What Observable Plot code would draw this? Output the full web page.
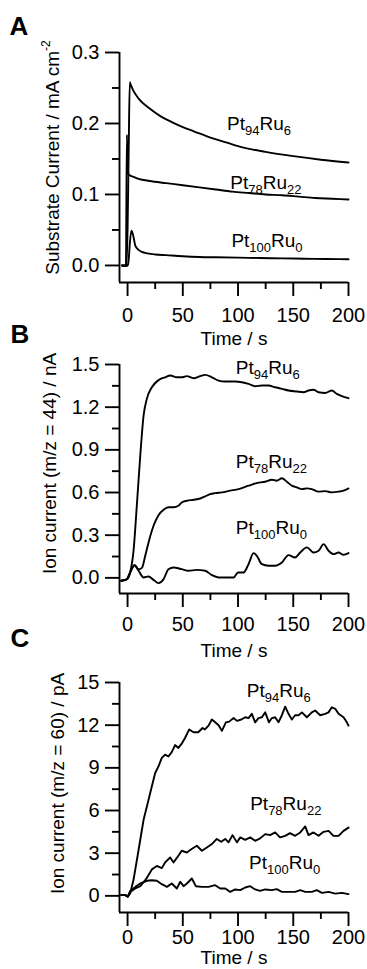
<!DOCTYPE html>
<html><head><meta charset="utf-8">
<script src="https://cdn.jsdelivr.net/npm/d3@7"></script>
<script src="https://cdn.jsdelivr.net/npm/@observablehq/plot@0.6"></script>
<style>
body{margin:0;background:#fff;}
#fig{position:relative;width:367px;height:969px;overflow:hidden;}
#fig svg{position:absolute;left:0;background:transparent;}
</style></head><body><div id="fig"></div>
<script>
const seriesNames = ["Pt94Ru6", "Pt78Ru22", "Pt100Ru0"];
const xMajor = [0, 50, 100, 150, 200];
const xMinor = [25, 75, 125, 175];

// Panel A: substrate current (mA cm-2)
const tA94 = [-5, -1, 0, 1, 2, 3, 5, 10, 20, 30, 40, 50, 60, 75, 90, 100, 125, 150, 175, 200];
const vA94 = [0, 0, 0.05, 0.16, 0.258, 0.254, 0.247, 0.235, 0.221, 0.21, 0.202, 0.195, 0.189, 0.18, 0.173, 0.168, 0.16, 0.154, 0.149, 0.145];
const tA78 = [-5, -1.5, -0.6, 0.3, 2, 5, 10, 20, 35, 50, 65, 80, 95, 110, 125, 140, 155, 170, 185, 200];
const vA78 = [0, 0, 0.184, 0.13, 0.127, 0.125, 0.122, 0.119, 0.116, 0.113, 0.11, 0.107, 0.104, 0.102, 0.1, 0.099, 0.097, 0.095, 0.094, 0.093];
const tA100 = [-5, -1, 0, 1, 2, 3.5, 5, 7, 10, 13, 18, 25, 35, 50, 65, 80, 100, 120, 140, 160, 180, 200];
const vA100 = [0, -0.001, 0, 0.008, 0.03, 0.049, 0.043, 0.028, 0.022, 0.019, 0.017, 0.0155, 0.0145, 0.013, 0.012, 0.0115, 0.011, 0.0105, 0.01, 0.0095, 0.009, 0.0088];
const yTicksA = [0, 0.1, 0.2, 0.3];
const yMinorA = [0.05, 0.15, 0.25];
const labelTA = [90, 93, 94];
const labelVA = [0.2, 0.117, 0.035];

// Panel B: ion current m/z = 44 (nA)
const tB94 = [-5.7, -0.6, 2.4, 5.4, 8.4, 11.5, 14.5, 17.5, 22, 28, 34, 38.6, 44.6, 49, 53.7, 59.7, 65.8, 70.3, 76.3, 82.4, 88.4, 97.4, 103.5, 109.5, 115.5, 121.6, 127.6, 133.6, 139.7, 145.7, 153.2, 159.3, 163.8, 168.3, 172.9, 178.9, 184.9, 189.4, 194, 200];
const vB94 = [-0.02, -0.01, 0.04, 0.19, 0.51, 0.86, 1.14, 1.26, 1.34, 1.39, 1.41, 1.423, 1.41, 1.41, 1.418, 1.403, 1.418, 1.427, 1.41, 1.387, 1.38, 1.38, 1.375, 1.364, 1.347, 1.352, 1.352, 1.34, 1.329, 1.317, 1.31, 1.305, 1.317, 1.322, 1.305, 1.3, 1.317, 1.293, 1.277, 1.263];
const tB78 = [-5.7, -0.6, 2.4, 6.3, 10, 13, 16, 19, 23.5, 28, 32.6, 37, 41.6, 46, 49, 53.7, 59.7, 65.8, 70.3, 74.8, 79.3, 85.4, 92.9, 100.5, 109.5, 117, 124.6, 130.6, 135, 139.7, 144.2, 148.7, 153.2, 157.8, 162.3, 166.8, 172.9, 178.9, 184.9, 191, 195.5, 200];
const vB78 = [-0.02, -0.01, 0.04, 0.089, 0.06, 0.07, 0.155, 0.249, 0.366, 0.441, 0.479, 0.496, 0.496, 0.507, 0.53, 0.542, 0.549, 0.558, 0.573, 0.589, 0.596, 0.601, 0.613, 0.624, 0.648, 0.666, 0.676, 0.69, 0.683, 0.7, 0.676, 0.648, 0.636, 0.624, 0.629, 0.624, 0.606, 0.61, 0.601, 0.606, 0.613, 0.629];
const tB100 = [-5.7, -0.6, 2.4, 6.3, 10, 14.5, 19, 23.5, 28, 32.6, 37, 41.6, 49, 55, 62.7, 70.3, 76.3, 82.4, 91.4, 96, 100, 105, 109.5, 114, 117, 121.6, 127.6, 133.6, 139.7, 145.7, 151.7, 156.3, 162.3, 168.3, 172.9, 177.4, 182, 186.4, 191, 195.5, 200];
const vB100 = [-0.02, -0.01, 0.04, 0.089, 0.05, 0.003, 0.01, -0.014, -0.037, -0.009, 0.061, 0.073, 0.061, 0.05, 0.056, 0.05, 0.019, 0.003, 0.003, 0.003, 0.038, 0.038, 0.096, 0.174, 0.155, 0.096, 0.085, 0.085, 0.108, 0.16, 0.143, 0.178, 0.214, 0.178, 0.19, 0.237, 0.19, 0.167, 0.178, 0.162, 0.174];
const yTicksB = [0, 0.3, 0.6, 0.9, 1.2, 1.5];
const yMinorB = [0.15, 0.45, 0.75, 1.05, 1.35];
const labelTB = [98, 98, 98];
const labelVB = [1.474, 0.817, 0.35];

// Panel C: ion current m/z = 60 (pA)
const tC94 = [-5.7, -2, 0.3, 2.4, 5.4, 10, 14.5, 19, 22, 25, 28, 31, 34, 37, 40, 43, 46, 49, 52, 55.8, 59.7, 64, 67.9, 70, 73.3, 76.3, 79.3, 82.4, 85.4, 89, 92, 96, 99, 103, 106.5, 109.5, 112.5, 115.5, 118.5, 121.6, 124.6, 128, 130.6, 133.6, 136.6, 139.7, 142.7, 145.7, 148.7, 151.7, 154.8, 157.8, 162.3, 166.8, 169.8, 174.4, 178.9, 181.9, 184.9, 188, 191, 195.5, 198.5, 200];
const vC94 = [0.05, 0.05, -0.05, 0.19, 1.13, 3.24, 5.35, 6.76, 7.7, 8.64, 9.11, 9.7, 9.93, 9.8, 10.1, 10.6, 10.4, 10.7, 11.1, 11.7, 11.5, 11.5, 11.8, 11.7, 11.97, 12.4, 12.2, 12.0, 11.6, 12.2, 12.25, 12.5, 12.3, 12.4, 12.56, 12.5, 12.8, 12.2, 12.5, 12.56, 12.9, 12.2, 12.5, 12.56, 12.2, 12.7, 13.3, 12.8, 12.4, 12.7, 12.7, 12.9, 12.56, 12.9, 13.03, 12.7, 12.8, 12.9, 13.26, 13.15, 12.8, 12.56, 12.2, 11.97];
const tC78 = [-5.7, -2, 0.3, 2.4, 7, 11.5, 16, 19, 22, 26.5, 31, 34, 38.6, 41.6, 46, 49, 53.7, 58, 62.7, 67.3, 71.8, 76.3, 80.8, 84.8, 88.4, 91.4, 95, 99, 102, 106.5, 111, 115.5, 120, 124.6, 129, 133.6, 138, 142.7, 147, 151.7, 156.3, 160.8, 163.8, 168.3, 172.9, 177.4, 182, 186.4, 191, 195.5, 200];
const vC78 = [0.05, 0.05, -0.05, 0.28, 0.52, 0.68, 1.1, 1.46, 1.86, 2.1, 1.95, 2.35, 2.7, 2.35, 2.82, 3.17, 3.05, 3.29, 3.52, 3.17, 3.4, 3.64, 4.0, 3.8, 4.0, 3.76, 4.27, 3.76, 4.11, 3.94, 4.11, 3.87, 4.04, 4.34, 4.27, 4.46, 4.11, 4.22, 4.41, 4.22, 4.46, 4.88, 4.27, 4.46, 4.22, 4.5, 4.57, 4.22, 4.22, 4.57, 4.8];
const tC100 = [-5.7, -2, 0.3, 2.4, 7, 11.5, 17.5, 22, 26.5, 31, 35.6, 40, 44.6, 47.7, 50.7, 53.7, 58.2, 61.8, 67.3, 73.3, 79.3, 83.9, 88.4, 92.9, 97.4, 102, 106.5, 111, 115.5, 120, 124.6, 130.6, 135, 139.7, 145.7, 151.7, 156.3, 160.8, 166.8, 171.3, 175.9, 182, 188, 194, 200];
const vC100 = [0.05, 0.05, -0.05, 0.35, 0.63, 0.87, 1.06, 1.1, 1.06, 0.82, 0.63, 0.87, 0.52, 0.99, 0.68, 0.87, 1.22, 0.68, 0.63, 0.63, 0.75, 0.52, 0.52, 0.28, 0.45, 0.4, 0.59, 0.68, 0.45, 0.35, 0.45, 0.4, 0.47, 0.28, 0.28, 0.28, 0.4, 0.28, 0.28, 0.4, 0.21, 0.28, 0.16, 0.21, 0.12];
const yTicksC = [0, 3, 6, 9, 12, 15];
const yMinorC = [1.5, 4.5, 7.5, 10.5, 13.5];
const labelTC = [108, 111, 110];
const labelVC = [14.4, 6.46, 2.35];

const FONT = "'Liberation Sans', Arial, Helvetica, sans-serif";
const NS = "http://www.w3.org/2000/svg";

function decorate(svg) {
  svg.querySelectorAll("text").forEach(el => {
    const s = el.textContent;
    const m = s.match(/^Pt(\d+)Ru(\d+)$/);
    const add = (txt, attrs) => {
      const ts = document.createElementNS(NS, "tspan");
      ts.textContent = txt;
      for (const k in attrs) ts.setAttribute(k, attrs[k]);
      el.appendChild(ts);
    };
    if (m) {
      el.textContent = "";
      add("Pt", {});
      add(m[1], {"font-size": 13, dy: 5});
      add("Ru", {dy: -5});
      add(m[2], {"font-size": 13, dy: 5});
    } else if (/cm-2$/.test(s)) {
      el.textContent = "";
      add(s.slice(0, -2), {});
      add("-2", {"font-size": 12, dy: -9});
    }
  });
}

function makePanel(cfg) {
  const data = cfg.series.flatMap(s => s.t.map((t, i) => ({t, v: s.v[i], name: s.name})));
  const labels = seriesNames.map((name, i) => ({name, t: cfg.labelT[i], v: cfg.labelV[i]}));
  const frameBottom = cfg.height - cfg.mb;
  const frameMid = (cfg.mt + frameBottom) / 2;
  const x0 = -7.3;
  const sw = 1.9;
  const svg = Plot.plot({
    width: 367, height: cfg.height,
    marginTop: cfg.mt, marginBottom: cfg.mb, marginLeft: 119, marginRight: 19,
    style: {fontFamily: FONT, background: "transparent", color: "black", overflow: "visible"},
    x: {domain: [x0, 200]},
    y: {domain: cfg.yDomain},
    marks: [
      Plot.axisX({ticks: xMajor, tickSize: 14, tickPadding: cfg.xPad, fontSize: 20, strokeWidth: sw, label: null, tickFormat: d => String(d)}),
      Plot.axisX({ticks: xMinor, tickSize: 7, strokeWidth: sw, label: null, tickFormat: () => ""}),
      Plot.axisY({ticks: cfg.yMajor, tickSize: 14, tickPadding: 6, fontSize: 20, strokeWidth: sw, label: null, tickFormat: cfg.fmt}),
      Plot.axisY({ticks: cfg.yMinor, tickSize: 7, strokeWidth: sw, label: null, tickFormat: () => ""}),
      Plot.ruleX([x0], {strokeWidth: sw}),
      Plot.ruleY([cfg.yDomain[0]], {strokeWidth: sw}),
      Plot.line(data, {x: "t", y: "v", z: "name", stroke: "black", strokeWidth: sw, curve: cfg.curve}),
      Plot.text(labels, {x: "t", y: "v", text: "name", textAnchor: "start", lineAnchor: "middle", fontSize: 19}),
      Plot.text([cfg.yTitle], {text: d => d, frameAnchor: "left", rotate: -90, textAnchor: "middle", lineAnchor: "middle",
        dx: cfg.ytX - 119, dy: cfg.ytY - cfg.top - frameMid, fontSize: 19}),
      Plot.text(["Time / s"], {text: d => d, frameAnchor: "bottom", textAnchor: "middle", lineAnchor: "middle",
        dy: cfg.timeY - cfg.top - frameBottom, fontSize: 19}),
      Plot.text([cfg.letter], {text: d => d, frameAnchor: "top-left", textAnchor: "start", lineAnchor: "middle",
        dx: cfg.letterX - 119, dy: cfg.letterY - cfg.top - cfg.mt, fontSize: 26, fontWeight: "bold"})
    ]
  });
  svg.style.top = cfg.top + "px";
  decorate(svg);
  document.getElementById("fig").appendChild(svg);
}

makePanel({
  top: 0, height: 350, mt: 52, mb: 68, yDomain: [-0.024, 0.3],
  yMajor: yTicksA, yMinor: yMinorA, fmt: d3.format(".1f"), xPad: 11,
  series: [{name: seriesNames[0], t: tA94, v: vA94}, {name: seriesNames[1], t: tA78, v: vA78}, {name: seriesNames[2], t: tA100, v: vA100}],
  labelT: labelTA, labelV: labelVA, curve: "monotone-x",
  yTitle: "Substrate Current / mA cm-2", ytX: 52, ytY: 157, timeY: 338, letter: "A", letterX: 9, letterY: 26
});
makePanel({
  top: 320, height: 340, mt: 44, mb: 67, yDomain: [-0.11, 1.5],
  yMajor: yTicksB, yMinor: yMinorB, fmt: d3.format(".1f"), xPad: 9,
  series: [{name: seriesNames[0], t: tB94, v: vB94}, {name: seriesNames[1], t: tB78, v: vB78}, {name: seriesNames[2], t: tB100, v: vB100}],
  labelT: labelTB, labelV: labelVB, curve: "monotone-x",
  yTitle: "Ion current (m/z = 44) / nA", ytX: 49, ytY: 463, timeY: 650, letter: "B", letterX: 10, letterY: 334
});
makePanel({
  top: 640, height: 329, mt: 42, mb: 57, yDomain: [-1.17, 15],
  yMajor: yTicksC, yMinor: yMinorC, fmt: d3.format("d"), xPad: 3,
  series: [{name: seriesNames[0], t: tC94, v: vC94}, {name: seriesNames[1], t: tC78, v: vC78}, {name: seriesNames[2], t: tC100, v: vC100}],
  labelT: labelTC, labelV: labelVC, curve: "linear",
  yTitle: "Ion current (m/z = 60) / pA", ytX: 57, ytY: 783, timeY: 957, letter: "C", letterX: 10, letterY: 638
});
</script></body></html>
